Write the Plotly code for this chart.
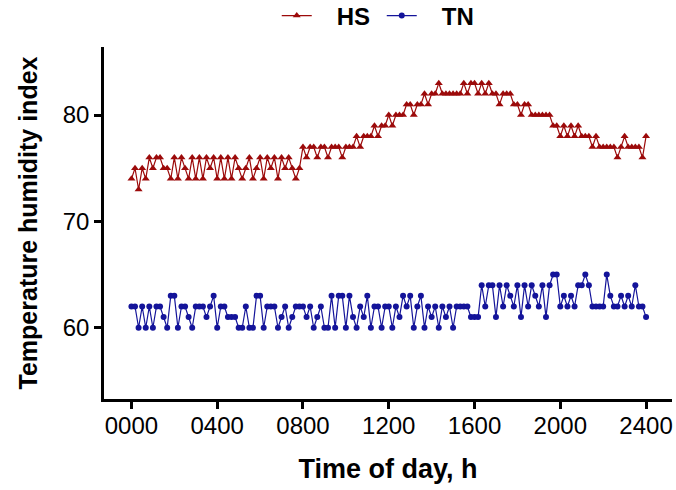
import plotly.graph_objects as go

# Sampling times (minutes after midnight), every 10 min from 0000 to 2400
minutes = list(range(0, 1441, 10))
time_hhmm = [m / 60 * 100 for m in minutes]

hs_thi = [
    74, 75, 73, 75, 74, 76,
    75, 76, 76, 75, 75, 74,
    76, 74, 76, 75, 74, 76,
    74, 76, 74, 76, 75, 76,
    74, 76, 74, 76, 74, 76,
    75, 74, 75, 76, 74, 75,
    76, 74, 76, 75, 76, 74,
    76, 75, 76, 75, 74, 75,
    77, 76, 77, 77, 76, 77,
    77, 76, 77, 77, 77, 76,
    77, 77, 77, 78, 77, 78,
    78, 78, 79, 78, 79, 79,
    80, 79, 80, 80, 80, 81,
    81, 80, 81, 81, 82, 81,
    82, 82, 83, 82, 82, 82,
    82, 82, 82, 83, 82, 83,
    83, 82, 83, 82, 83, 82,
    82, 81, 82, 82, 82, 81,
    81, 80, 81, 81, 80, 80,
    80, 80, 80, 80, 79, 79,
    78, 79, 78, 79, 78, 79,
    78, 78, 78, 77, 78, 77,
    77, 77, 77, 77, 76, 77,
    78, 77, 77, 77, 77, 76,
    78,
]

tn_thi = [
    62, 62, 60, 62, 60, 62,
    60, 62, 62, 61, 60, 63,
    63, 60, 62, 62, 61, 60,
    62, 62, 62, 61, 62, 63,
    60, 62, 62, 61, 61, 61,
    60, 60, 62, 60, 60, 63,
    63, 60, 62, 62, 62, 60,
    61, 62, 60, 61, 62, 62,
    62, 61, 62, 60, 61, 62,
    60, 60, 63, 60, 63, 63,
    60, 63, 61, 60, 62, 61,
    63, 60, 62, 62, 60, 62,
    62, 60, 62, 61, 63, 62,
    63, 60, 62, 63, 60, 62,
    61, 62, 60, 62, 61, 62,
    60, 62, 62, 62, 62, 61,
    61, 61, 64, 62, 64, 64,
    61, 64, 62, 64, 63, 62,
    64, 61, 64, 62, 64, 63,
    62, 64, 61, 64, 65, 65,
    62, 63, 62, 63, 62, 64,
    64, 65, 64, 62, 62, 62,
    62, 65, 63, 62, 62, 63,
    62, 63, 62, 64, 62, 62,
    61,
]

x_tick_vals = [0, 400, 800, 1200, 1600, 2000, 2400]
x_tick_text = ["0000", "0400", "0800", "1200", "1600", "2000", "2400"]
y_tick_vals = [60, 70, 80]

HS_COLOR = "#9c0a0a"
TN_COLOR = "#14149a"
FONT = "Liberation Sans, Arial, sans-serif"
PAD = "\u00a0\u00a0\u00a0"

fig = go.Figure()
fig.add_trace(go.Scatter(
    x=time_hhmm, y=hs_thi, name=PAD + "HS", mode="lines+markers",
    line=dict(color=HS_COLOR, width=1.2),
    marker=dict(symbol="triangle-up", size=7, color=HS_COLOR),
))
fig.add_trace(go.Scatter(
    x=time_hhmm, y=tn_thi, name=PAD + "TN", mode="lines+markers",
    line=dict(color=TN_COLOR, width=1.2),
    marker=dict(symbol="circle", size=6, color=TN_COLOR),
))

fig.update_layout(
    width=676, height=490,
    margin=dict(l=104, r=4, t=47, b=91, autoexpand=False),
    paper_bgcolor="white", plot_bgcolor="white",
    font=dict(family=FONT, color="black"),
    showlegend=True,
    legend=dict(
        orientation="h", x=0.489, xanchor="center",
        yref="container", y=1 - 16 / 490, yanchor="middle",
        font=dict(size=24, family=FONT, weight="bold"),
        itemwidth=30, entrywidth=60, entrywidthmode="pixels",
        bgcolor="rgba(0,0,0,0)",
    ),
)
fig.update_xaxes(
    range=[-128, 2521], tickvals=x_tick_vals, ticktext=x_tick_text,
    showgrid=False, zeroline=False, automargin=False,
    showline=True, linecolor="black", linewidth=2.5,
    ticks="outside", ticklen=7, tickwidth=2.5, tickcolor="black",
    tickfont=dict(size=24, color="black"), ticklabelstandoff=-4,
    title=dict(text="<b>Time of day, h</b>", font=dict(size=27), standoff=22),
)
fig.update_yaxes(
    range=[53.3, 86.4], tickvals=y_tick_vals,
    showgrid=False, zeroline=False, automargin=False,
    showline=True, linecolor="black", linewidth=2.5,
    ticks="outside", ticklen=7, tickwidth=2.5, tickcolor="black",
    tickfont=dict(size=24, color="black"),
    title=dict(text="<b>Temperature humidity index</b>", font=dict(size=25), standoff=18),
)

fig.write_html(
    "out.html",
    config={"displayModeBar": False},
    post_script="document.body.style.margin='0px';document.body.style.overflow='hidden';",
)
